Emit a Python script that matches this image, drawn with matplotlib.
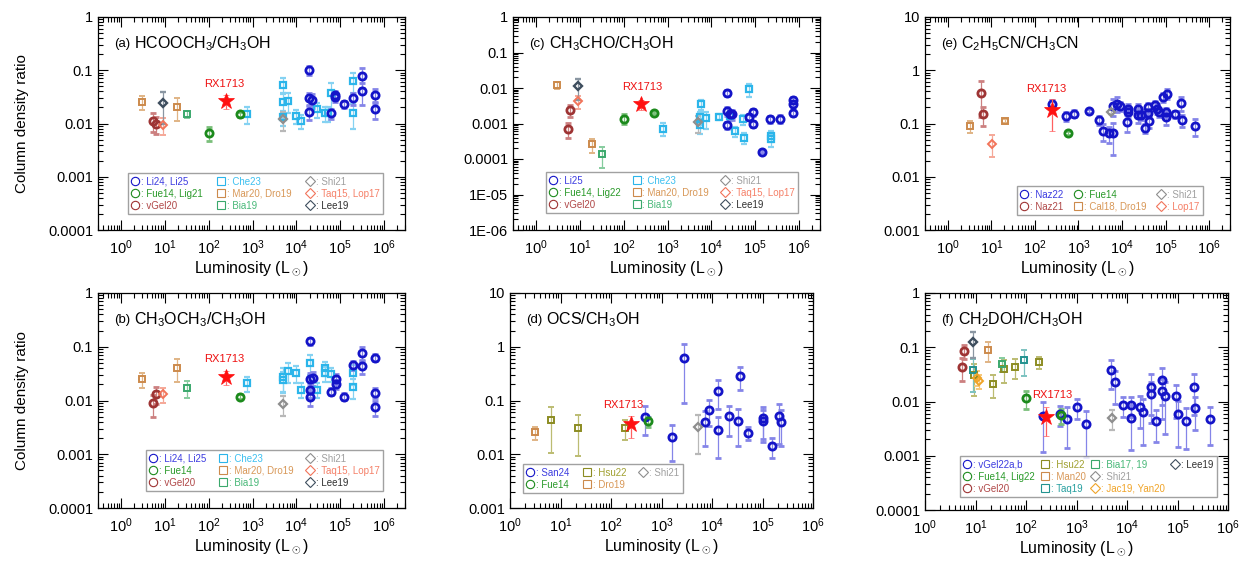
import matplotlib
matplotlib.use('Agg')
import matplotlib.pyplot as plt
from matplotlib.lines import Line2D
from matplotlib.ticker import LogLocator, NullFormatter, FixedLocator, FixedFormatter
import numpy as np

plt.rcParams['font.family'] = ['Liberation Sans', 'DejaVu Sans']
plt.rcParams['mathtext.fontset'] = 'custom'
plt.rcParams['mathtext.rm'] = 'Liberation Sans'
plt.rcParams['mathtext.it'] = 'Liberation Sans:italic'
plt.rcParams['mathtext.bf'] = 'Liberation Sans:bold'

# ---- data: (luminosity, ratio, fractional error) ----
# (a) HCOOCH3/CH3OH
a_li = [(19500, 0.100, 0.2), (19500, 0.030, 0.25), (23000, 0.028, 0.3), (19500, 0.0166, 0.3),
        (76000, 0.034, 0.2), (78000, 0.031, 0.2), (62000, 0.0155, 0.2), (123000, 0.023, 0.15),
        (200000, 0.030, 0.25), (310000, 0.078, 0.4), (310000, 0.040, 0.45), (620000, 0.034, 0.3),
        (620000, 0.0185, 0.35)]
a_che = [(740, 0.015, 0.35), (4900, 0.054, 0.35), (4900, 0.025, 0.5), (6300, 0.0265, 0.4),
         (4900, 0.0131, 0.3), (10000, 0.014, 0.3), (13000, 0.0113, 0.3), (30000, 0.0185, 0.3),
         (45000, 0.0155, 0.3), (52000, 0.0155, 0.3), (61000, 0.038, 0.5), (200000, 0.063, 0.4),
         (200000, 0.0155, 0.5)]
a_fue = [(100, 0.0067, 0.3), (510, 0.0149, 0.1)]
a_vgel = [(5.5, 0.0113, 0.4), (6.2, 0.0098, 0.35)]
a_mar = [(3.0, 0.0257, 0.3), (18.6, 0.0207, 0.45)]
a_bia = [(32, 0.0149, 0.15)]
a_shi = [(4900, 0.012, 0.4)]
a_taq = [(9.0, 0.0095, 0.35)]
a_lee = [(9.2, 0.0245, 0.6)]
a_star = [(250, 0.0264, 0.3)]

# (b) CH3OCH3/CH3OH
b_li = [(20000, 0.128, 0.15), (20000, 0.0248, 0.3), (24500, 0.0265, 0.3), (20000, 0.0158, 0.3),
        (20000, 0.0115, 0.3), (62000, 0.0146, 0.15), (79000, 0.0255, 0.2), (79000, 0.0203, 0.2),
        (123000, 0.0118, 0.15), (200000, 0.046, 0.2), (310000, 0.076, 0.3), (310000, 0.044, 0.3),
        (620000, 0.063, 0.15), (620000, 0.014, 0.2), (620000, 0.0075, 0.3)]
b_che = [(760, 0.021, 0.3), (4900, 0.027, 0.5), (4900, 0.024, 0.4), (6300, 0.035, 0.4),
         (10000, 0.032, 0.35), (13000, 0.016, 0.3), (21000, 0.050, 0.4), (29000, 0.016, 0.3),
         (45000, 0.040, 0.3), (45000, 0.032, 0.3), (62000, 0.031, 0.3), (200000, 0.032, 0.4),
         (200000, 0.018, 0.4)]
b_fue = [(510, 0.0118, 0.1)]
b_vgel = [(6.2, 0.013, 0.35), (5.5, 0.0089, 0.45)]
b_mar = [(3.0, 0.0248, 0.3), (18.6, 0.041, 0.45)]
b_bia = [(32, 0.0169, 0.35)]
b_shi = [(4900, 0.0086, 0.4)]
b_taq = [(9.0, 0.013, 0.3)]
b_star = [(250, 0.0277, 0.3)]

# (c) CH3CHO/CH3OH
c_li = [(23000, 0.0074, 0.2), (23000, 0.0023, 0.3), (26000, 0.0019, 0.3), (29500, 0.0018, 0.3),
        (23000, 0.0009, 0.2), (91000, 0.0021, 0.2), (72000, 0.00155, 0.2), (91000, 0.001, 0.2),
        (140000, 0.00016, 0.1), (220000, 0.00132, 0.2), (360000, 0.00138, 0.25),
        (730000, 0.0046, 0.2), (730000, 0.0036, 0.2), (730000, 0.0020, 0.2)]
c_che = [(800, 0.00072, 0.4), (5800, 0.0035, 0.3), (5600, 0.0015, 0.4), (5600, 0.0009, 0.45),
         (7500, 0.0014, 0.5), (15000, 0.00155, 0.2), (26000, 0.00165, 0.3), (35000, 0.0006, 0.3),
         (55000, 0.0004, 0.35), (52000, 0.0013, 0.3), (72000, 0.0093, 0.4), (230000, 0.00045, 0.35),
         (230000, 0.00037, 0.4)]
c_fue = [(100, 0.00138, 0.3), (500, 0.002, 0.1)]
c_vgel = [(6.0, 0.0024, 0.35), (5.5, 0.00072, 0.45)]
c_mar = [(3.0, 0.012, 0.2), (18.6, 0.00026, 0.45)]
c_bia = [(32, 0.000138, 0.6)]
c_shi = [(5000, 0.00108, 0.5)]
c_taq = [(9.2, 0.0043, 0.4)]
c_lee = [(9.2, 0.0115, 0.6)]
c_star = [(250, 0.0035, 0.3)]

# (d) OCS/CH3OH
d_san = [(480, 0.050, 0.55), (1620, 0.0213, 0.65), (2800, 0.61, 0.85), (7400, 0.039, 0.64),
         (8700, 0.067, 0.5), (13000, 0.152, 0.55), (13000, 0.0287, 0.7), (22000, 0.051, 0.57),
         (32000, 0.042, 0.66), (36500, 0.288, 0.45), (51000, 0.0252, 0.27), (100000, 0.048, 0.6),
         (100000, 0.042, 0.6), (152000, 0.0145, 0.4), (213000, 0.051, 0.7), (230000, 0.040, 0.65)]
d_fue = [(545, 0.041, 0.2)]
d_hsu = [(6.4, 0.0426, 0.75), (22.5, 0.031, 0.7), (188, 0.031, 0.4)]
d_dro = [(3.1, 0.0256, 0.27)]
d_shi = [(5300, 0.032, 0.68)]
d_star = [(250, 0.036, 0.44)]

# (e) C2H5CN/CH3CN
e_naz22 = [(250, 0.23, 0.2), (510, 0.138, 0.2), (800, 0.154, 0.15), (1750, 0.173, 0.1),
           (3000, 0.116, 0.2), (3700, 0.072, 0.35), (5100, 0.065, 0.35), (6100, 0.065, 0.6),
           (6300, 0.214, 0.35), (7600, 0.237, 0.3), (9100, 0.214, 0.2), (13000, 0.107, 0.35),
           (14000, 0.19, 0.2), (14000, 0.165, 0.2), (23000, 0.19, 0.2), (23500, 0.147, 0.3),
           (27000, 0.147, 0.2), (33000, 0.083, 0.2), (39000, 0.2, 0.2), (39000, 0.158, 0.2),
           (41000, 0.11, 0.25), (58000, 0.22, 0.2), (63000, 0.19, 0.2), (69000, 0.165, 0.2),
           (85000, 0.316, 0.2), (107000, 0.365, 0.2), (100000, 0.163, 0.2), (100000, 0.134, 0.3),
           (160000, 0.148, 0.15), (230000, 0.244, 0.3), (235000, 0.116, 0.25), (480000, 0.089, 0.35)]
e_naz21 = [(5.8, 0.38, 0.65), (6.6, 0.148, 0.4)]
e_cal = [(3.2, 0.089, 0.25), (21, 0.112, 0.1)]
e_fue = [(570, 0.067, 0.1)]
e_shi = [(5600, 0.165, 0.1)]
e_lop = [(10.6, 0.042, 0.45)]
e_star = [(250, 0.178, 0.6)]

# (f) CH2DOH/CH3OH
f_vgel22 = [(220, 0.0054, 0.78), (470, 0.0058, 0.4), (650, 0.0047, 0.7), (1000, 0.0080, 0.4),
            (1520, 0.0038, 0.75), (4900, 0.038, 0.55), (5700, 0.0225, 0.6), (8400, 0.0087, 0.4),
            (12200, 0.0087, 0.4), (12200, 0.005, 0.75), (18500, 0.0080, 0.6), (21000, 0.0064, 0.75),
            (30500, 0.0186, 0.7), (30500, 0.0136, 0.7), (37000, 0.0044, 0.6), (50000, 0.0247, 0.65),
            (50000, 0.0156, 0.7), (56000, 0.0125, 0.8), (95000, 0.0125, 0.6), (103000, 0.0059, 0.75),
            (145000, 0.0044, 0.7), (213000, 0.0186, 0.7), (218000, 0.0076, 0.6), (450000, 0.0047, 0.67)]
f_fue = [(100, 0.0114, 0.35), (500, 0.0056, 0.3)]
f_vgel20 = [(5.3, 0.044, 0.45), (5.9, 0.086, 0.3)]
f_hsu = [(9.3, 0.031, 0.6), (22.5, 0.021, 0.45), (36, 0.0405, 0.45), (60, 0.0437, 0.4), (182, 0.053, 0.25)]
f_man = [(18, 0.089, 0.4)]
f_taq19 = [(9, 0.038, 0.6), (92, 0.059, 0.5)]
f_bia = [(33, 0.049, 0.3)]
f_shi = [(5100, 0.0049, 0.4)]
f_jac = [(10.5, 0.0276, 0.3), (11.9, 0.024, 0.3)]
f_lee = [(9, 0.127, 0.5)]
f_star = [(250, 0.0052, 0.55)]

# ---- styles ----
STY = {
    'li':    dict(marker='o', c='#1414c8', ec='#8585e8', ms=5.2, mew=2.0),
    'fue':   dict(marker='o', c='#1c8a1c', ec='#7abf7a', ms=5.2, mew=2.0),
    'vgel':  dict(marker='o', c='#9e3434', ec='#cc8080', ms=5.2, mew=2.0),
    'che':   dict(marker='s', c='#2bb5ea', ec='#85d2f2', ms=5.0, mew=1.6),
    'mar':   dict(marker='s', c='#cc8a4c', ec='#e0b485', ms=5.0, mew=1.4),
    'bia':   dict(marker='s', c='#3aa86c', ec='#86cc9e', ms=5.0, mew=1.4),
    'hsu':   dict(marker='s', c='#8c8c22', ec='#bcbc72', ms=5.0, mew=1.4),
    'taq19': dict(marker='s', c='#22928f', ec='#7cc2c0', ms=5.0, mew=1.4),
    'shi':   dict(marker='D', c='#8e8e8e', ec='#b8b8b8', ms=4.3, mew=1.6),
    'taq':   dict(marker='D', c='#f2745a', ec='#f5a898', ms=4.3, mew=1.4),
    'lee':   dict(marker='D', c='#3e4e5e', ec='#8a96a2', ms=4.3, mew=1.7),
    'jac':   dict(marker='D', c='#f0a428', ec='#f5c87a', ms=4.3, mew=1.4),
    'star':  dict(marker='*', c='#ff1010', ec='#ff6060', ms=12, mew=0.5),
}
LEGTXT = {'li': '#3c3ce0', 'fue': '#2a9a2a', 'vgel': '#b04848', 'che': '#3cc0f0', 'mar': '#d89858',
          'bia': '#48b878', 'hsu': '#a0a030', 'taq19': '#28a0a0', 'shi': '#a0a0a0', 'taq': '#f58068',
          'lee': '#303030', 'jac': '#f0a428'}

W, H = 1253, 563
fig = plt.figure(figsize=(W / 100, H / 100), dpi=100)


def add_ax(l, r, t, b):
    return fig.add_axes([l / W, 1 - b / H, (r - l) / W, (b - t) / H])


def draw(ax, key, pts):
    s = STY[key]
    L = np.array([p[0] for p in pts], float)
    R = np.array([p[1] for p in pts], float)
    f = np.array([p[2] for p in pts], float)
    filled = key == 'star'
    ax.errorbar(L, R, yerr=[R * f, R * f], fmt=s['marker'], ms=s['ms'], mew=s['mew'],
                mec=s['c'], mfc=s['c'] if filled else 'none', ecolor=s['ec'],
                elinewidth=0.9, capsize=2.5, capthick=0.9, zorder=5 if filled else 3)


def legend(ax, entries, bbox, ncol):
    hs, ls = [], []
    for key, lab in entries:
        if key is None:
            hs.append(Line2D([], [], ls='none'))
            ls.append('')
            continue
        hs.append(Line2D([], [], ls='none', marker=STY[key]['marker'], mec=STY[key]['c'],
                         mfc='none', ms=6 if STY[key]['marker'] != 'D' else 5, mew=0.8))
        ls.append(lab)
    leg = ax.legend(hs, ls, loc='lower left', bbox_to_anchor=bbox, mode='expand', ncol=ncol,
                    fontsize=7.0, frameon=True, fancybox=False, edgecolor='#8a8a8a',
                    handlelength=0.8, handletextpad=0.2, labelspacing=0.2, borderpad=0.35,
                    borderaxespad=0, columnspacing=0.3)
    leg.get_frame().set_linewidth(1.0)
    for t, (key, lab) in zip(leg.get_texts(), entries):
        if key is not None:
            t.set_color(LEGTXT[key])


YLAB = {10: '10', 1: '1', 0.1: '0.1', 0.01: '0.01', 0.001: '0.001', 1e-4: '0.0001',
        1e-5: '1E-05', 1e-6: '1E-06'}


def setup(ax, xlim, ylim, tag, formula, star, dxy, ylabel=False):
    ax.set_xscale('log')
    ax.set_yscale('log')
    ax.set_xlim(*xlim)
    ax.set_ylim(*ylim)
    ax.xaxis.set_major_locator(LogLocator(base=10, numticks=100))
    ax.xaxis.set_minor_locator(LogLocator(base=10, subs=np.arange(2, 10), numticks=100))
    ax.xaxis.set_minor_formatter(NullFormatter())
    yt = [v for v in sorted(YLAB) if ylim[0] * 0.99 <= v <= ylim[1] * 1.01]
    ax.yaxis.set_major_locator(FixedLocator(yt))
    ax.yaxis.set_major_formatter(FixedFormatter([YLAB[v] for v in yt]))
    ax.yaxis.set_minor_locator(LogLocator(base=10, subs=np.arange(2, 10), numticks=100))
    ax.yaxis.set_minor_formatter(NullFormatter())
    ax.tick_params(which='both', direction='in', top=True, right=True, labelsize=10.5, width=0.8)
    ax.tick_params(which='major', length=7)
    ax.tick_params(which='minor', length=3.5)
    ax.tick_params(axis='x', which='major', pad=6)
    for sp in ax.spines.values():
        sp.set_linewidth(0.9)
    ax.set_xlabel(r'Luminosity (L$_\odot$)', fontsize=11.5, labelpad=2)
    if ylabel:
        ax.set_ylabel('Column density ratio', fontsize=11, labelpad=14)
    t1 = ax.text(0.052, 0.875, tag, transform=ax.transAxes, fontsize=9.5, va='center', ha='left')
    ax.annotate(formula, xy=(1, 0.5), xycoords=t1, xytext=(3, 0), textcoords='offset points',
                fontsize=11.5, va='center', ha='left')
    ax.annotate('RX1713', xy=star, xytext=dxy, textcoords='offset pixels', color='#ee1111',
                fontsize=8, ha='center', va='center', zorder=6)


XW = (0.3, 3e6)
XN = (1, 1e6)

# (a)
ax = add_ax(98, 405, 17, 230)
for k, d in [('che', a_che), ('li', a_li), ('fue', a_fue), ('vgel', a_vgel), ('mar', a_mar),
             ('bia', a_bia), ('shi', a_shi), ('taq', a_taq), ('lee', a_lee), ('star', a_star)]:
    draw(ax, k, d)
setup(ax, XW, (1e-4, 1), '(a)', r'HCOOCH$_3$/CH$_3$OH', a_star[0][:2], (-2, 17), ylabel=True)
legend(ax, [('li', ': Li24, Li25'), ('fue', ': Fue14, Lig21'), ('vgel', ': vGel20'),
            ('che', ': Che23'), ('mar', ': Mar20, Dro19'), ('bia', ': Bia19'),
            ('shi', ': Shi21'), ('taq', ': Taq15, Lop17'), ('lee', ': Lee19')],
       (0.098, 0.075, 0.83, 0.19), 3)

# (b)
ax = add_ax(98, 405, 293, 508)
for k, d in [('che', b_che), ('li', b_li), ('fue', b_fue), ('vgel', b_vgel), ('mar', b_mar),
             ('bia', b_bia), ('shi', b_shi), ('taq', b_taq), ('star', b_star)]:
    draw(ax, k, d)
setup(ax, XW, (1e-4, 1), '(b)', r'CH$_3$OCH$_3$/CH$_3$OH', b_star[0][:2], (-2, 18), ylabel=True)
legend(ax, [('li', ': Li24, Li25'), ('fue', ': Fue14'), ('vgel', ': vGel20'),
            ('che', ': Che23'), ('mar', ': Mar20, Dro19'), ('bia', ': Bia19'),
            ('shi', ': Shi21'), ('taq', ': Taq15, Lop17'), ('lee', ': Lee19')],
       (0.156, 0.079, 0.772, 0.19), 3)

# (c)
ax = add_ax(513, 820, 17, 230)
for k, d in [('che', c_che), ('li', c_li), ('fue', c_fue), ('vgel', c_vgel), ('mar', c_mar),
             ('bia', c_bia), ('shi', c_shi), ('taq', c_taq), ('lee', c_lee), ('star', c_star)]:
    draw(ax, k, d)
setup(ax, XW, (1e-6, 1), '(c)', r'CH$_3$CHO/CH$_3$OH', c_star[0][:2], (1, 17))
legend(ax, [('li', ': Li25'), ('fue', ': Fue14, Lig22'), ('vgel', ': vGel20'),
            ('che', ': Che23'), ('mar', ': Man20, Dro19'), ('bia', ': Bia19'),
            ('shi', ': Shi21'), ('taq', ': Taq15, Lop17'), ('lee', ': Lee19')],
       (0.107, 0.08, 0.821, 0.178), 3)

# (d)
ax = add_ax(510, 813, 293, 508)
for k, d in [('li', d_san), ('fue', d_fue), ('hsu', d_hsu), ('mar', d_dro), ('shi', d_shi),
             ('star', d_star)]:
    draw(ax, k, d)
setup(ax, XN, (1e-3, 10), '(d)', r'OCS/CH$_3$OH', d_star[0][:2], (-8, 19))
legend(ax, [('li', ': San24'), ('fue', ': Fue14'), ('hsu', ': Hsu22'), ('mar', ': Dro19'),
            ('shi', ': Shi21')],
       (0.043, 0.07, 0.527, 0.12), 3)

# (e)
ax = add_ax(925, 1230, 17, 230)
for k, d in [('li', e_naz22), ('vgel', e_naz21), ('mar', e_cal), ('fue', e_fue), ('shi', e_shi),
             ('taq', e_lop), ('star', e_star)]:
    draw(ax, k, d)
setup(ax, XW, (1e-3, 10), '(e)', r'C$_2$H$_5$CN/CH$_3$CN', e_star[0][:2], (-6, 21))
legend(ax, [('li', ': Naz22'), ('vgel', ': Naz21'), ('fue', ': Fue14'), ('mar', ': Cal18, Dro19'),
            ('shi', ': Shi21'), ('taq', ': Lop17')],
       (0.30, 0.07, 0.61, 0.127), 3)

# (f)
ax = add_ax(925, 1228, 293, 510)
for k, d in [('li', f_vgel22), ('fue', f_fue), ('vgel', f_vgel20), ('hsu', f_hsu), ('mar', f_man),
             ('taq19', f_taq19), ('bia', f_bia), ('shi', f_shi), ('jac', f_jac), ('lee', f_lee),
             ('star', f_star)]:
    draw(ax, k, d)
setup(ax, XN, (1e-4, 1), '(f)', r'CH$_2$DOH/CH$_3$OH', f_star[0][:2], (6, 22))
legend(ax, [('li', ': vGel22a,b'), ('fue', ': Fue14, Lig22'), ('vgel', ': vGel20'),
            ('hsu', ': Hsu22'), ('mar', ': Man20'), ('taq19', ': Taq19'),
            ('bia', ': Bia17, 19'), ('shi', ': Shi21'), ('jac', ': Jac19, Yan20'),
            ('lee', ': Lee19'), (None, ''), (None, '')],
       (0.115, 0.06, 0.848, 0.184), 4)

fig.savefig('out.png', dpi=100)
